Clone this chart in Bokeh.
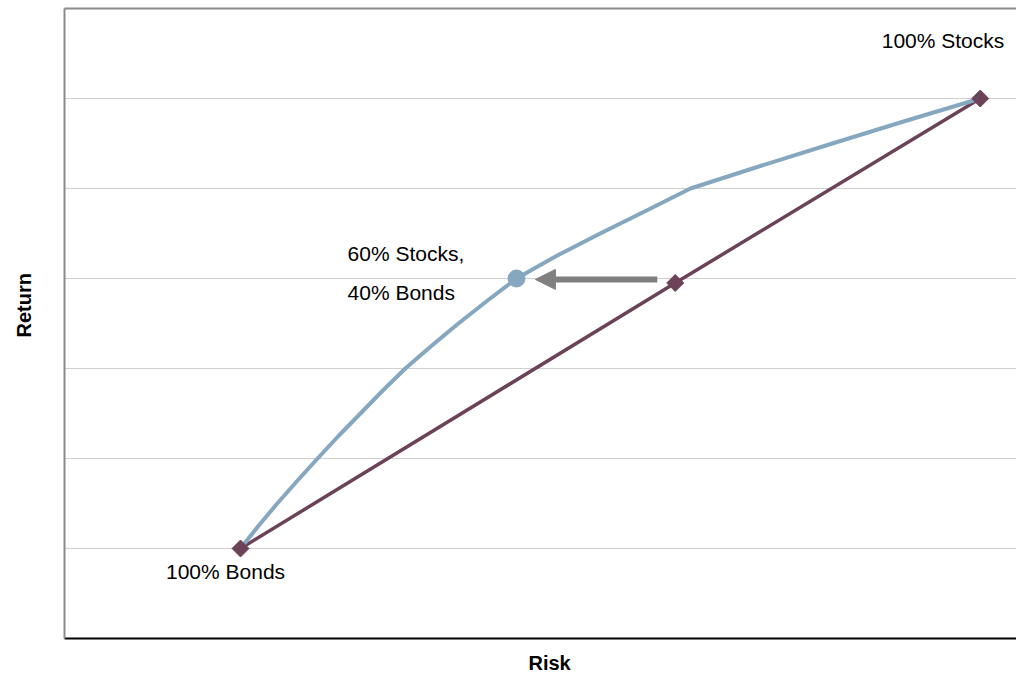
import math
from bokeh.plotting import figure
from bokeh.models import Range1d, FixedTicker, LinearAxis, Label, Arrow, NormalHead, Title
from bokeh.embed import file_html
from bokeh.resources import INLINE

# Efficient frontier of stock/bond mixes (risk, return)
frontier_risk = [3.45, 3.80, 4.17, 4.56, 4.96, 5.37, 5.80, 6.23, 6.68, 7.19, 7.72,
                 8.28, 8.86, 9.64, 10.50, 11.39, 12.27, 13.64, 15.05, 16.48, 17.95]
frontier_return = [1.0, 1.25, 1.5, 1.75, 2.0, 2.25, 2.5, 2.75, 3.0, 3.25, 3.5,
                   3.75, 4.0, 4.25, 4.5, 4.75, 5.0, 5.25, 5.5, 5.75, 6.0]

# Straight line between 100% bonds and 100% stocks, with the naive 60/40 point
line_risk = [3.45, 11.97, 17.95]
line_return = [1.0, 3.95, 6.0]

# 60/40 point on the frontier
mix_risk = [8.86]
mix_return = [4.0]

grid_levels = [1, 2, 3, 4, 5, 6]

FONT = "Liberation Sans"
BLUE = "#86A7C0"
PURPLE = "#6B4258"
GRAY = "#808080"

p = figure(width=1016, height=676, output_backend="svg", toolbar_location=None,
           x_range=Range1d(0, 18.66), y_range=Range1d(0, 7),
           min_border_left=64, min_border_right=0, min_border_top=8, min_border_bottom=38)
p.outline_line_color = None
p.background_fill_color = "white"

# axes without ticks; a tiny blank axis label acts as spacing before the titles
for ax in (p.xaxis[0], p.yaxis[0]):
    ax.ticker = FixedTicker(ticks=[])
    ax.major_tick_line_color = None
    ax.minor_tick_line_color = None
    ax.major_label_standoff = 0
    ax.major_label_text_font_size = "0px"
    ax.axis_label = " "
    ax.axis_label_text_font_size = "1px"

p.xaxis.axis_line_color = "black"
p.xaxis.axis_line_width = 2
p.xaxis.axis_label_standoff = 9
p.yaxis.axis_line_color = "#8a8a8a"
p.yaxis.axis_line_width = 2
p.yaxis.axis_label_standoff = 24

top = LinearAxis(ticker=FixedTicker(ticks=[]), axis_line_color="#8a8a8a", axis_line_width=2,
                 major_tick_line_color=None, minor_tick_line_color=None,
                 major_label_text_font_size="0px", major_label_standoff=0)
p.add_layout(top, "above")

# axis titles
p.add_layout(Title(text="Risk", align="left", offset=464, standoff=0, vertical_align="top",
                   text_font=FONT, text_font_size="20px", text_font_style="bold",
                   text_color="black"), "below")
p.add_layout(Title(text="Return", align="left", offset=301, standoff=0, vertical_align="top",
                   text_font=FONT, text_font_size="20px", text_font_style="bold",
                   text_color="black"), "left")

p.xgrid.visible = False
p.ygrid.ticker = FixedTicker(ticks=grid_levels)
p.ygrid.grid_line_color = "#cfcfcf"
p.ygrid.grid_line_width = 1

# straight line and its markers
p.line(line_risk, line_return, line_color=PURPLE, line_width=3.5)
# frontier curve
p.line(frontier_risk, frontier_return, line_color=BLUE, line_width=4, line_join="round")
p.scatter(line_risk, line_return, marker="square", size=12, angle=math.pi / 4,
          fill_color=PURPLE, line_color=PURPLE)
p.scatter(mix_risk, mix_return, marker="circle", size=17, fill_color=BLUE, line_color=BLUE)

# arrow from the straight-line point to the frontier point
p.add_layout(Arrow(end=NormalHead(size=20, fill_color=GRAY, line_color=GRAY),
                   x_start=line_risk[1] - 0.35, y_start=mix_return[0] - 0.01,
                   x_end=mix_risk[0] + 0.37, y_end=mix_return[0] - 0.01,
                   line_color=GRAY, line_width=6))

def lab(text, x, y, dx, dy, align):
    p.add_layout(Label(x=x, y=y, x_offset=dx, y_offset=dy, text=text, text_font=FONT,
                       text_font_size="21px", text_color="black", text_align=align,
                       text_baseline="middle"))

lab("100% Stocks", frontier_risk[-1], frontier_return[-1], 24, 58, "right")
lab("100% Bonds", frontier_risk[0], frontier_return[0], -15, -23, "center")
lab("60% Stocks,", mix_risk[0], mix_return[0], -169, 25, "left")
lab("40% Bonds", mix_risk[0], mix_return[0], -169, -14, "left")

open("out.html", "w").write(file_html(p, INLINE))
